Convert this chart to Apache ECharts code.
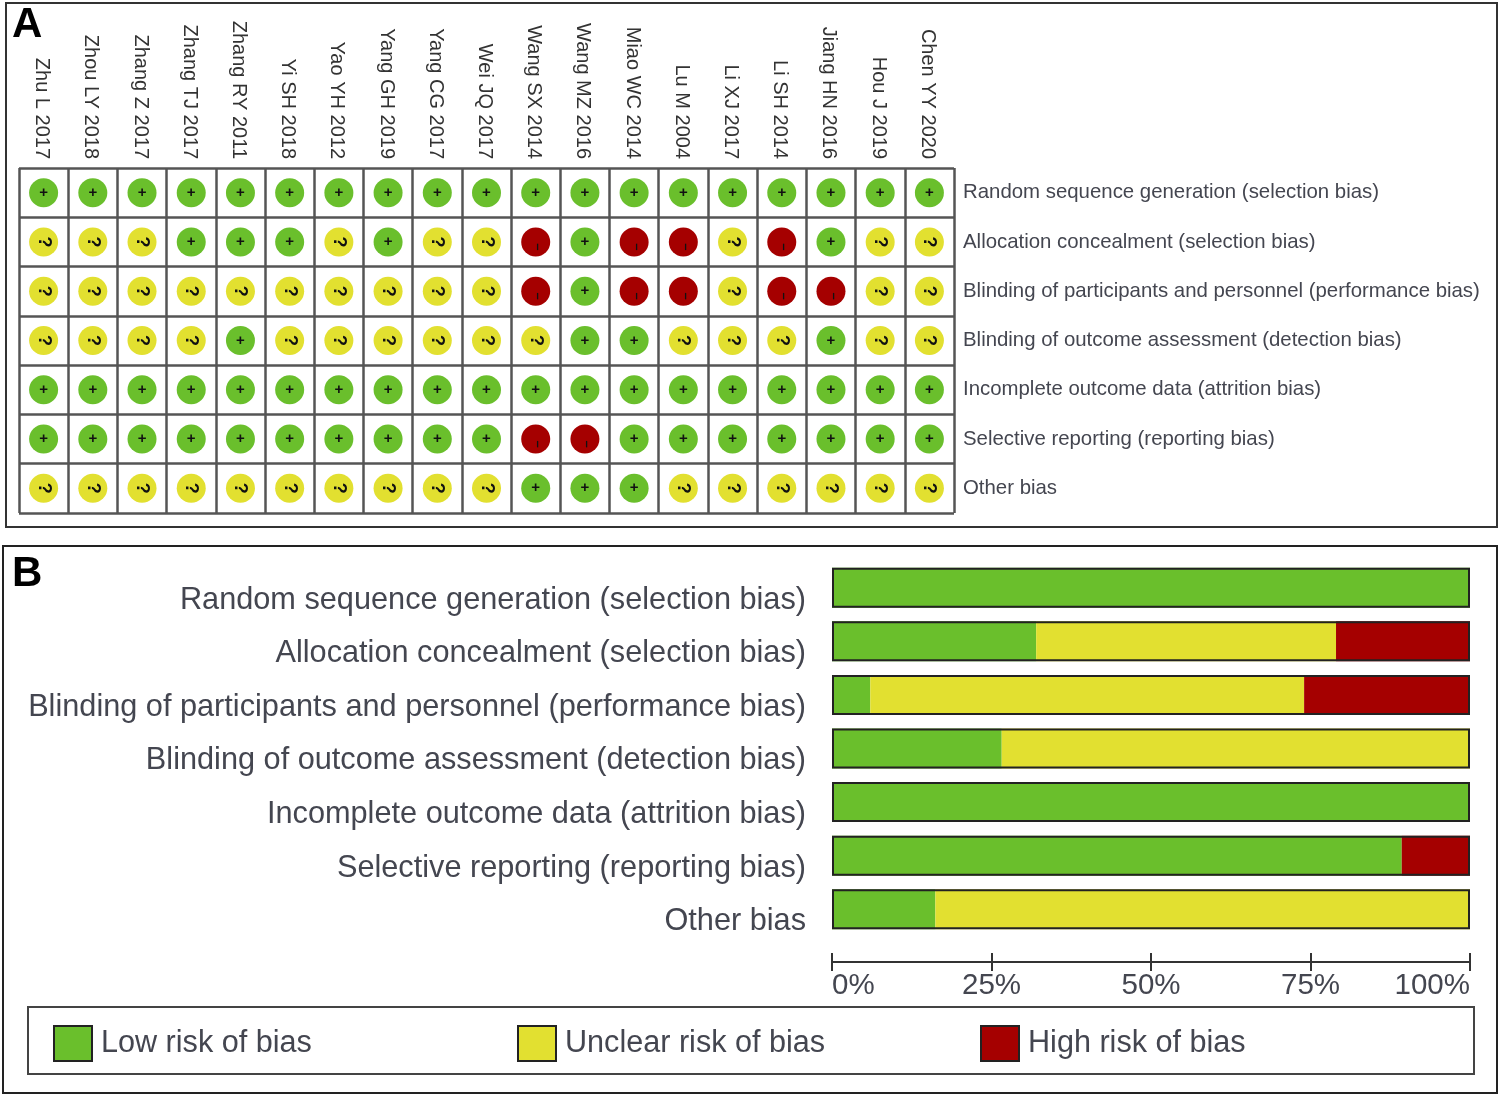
<!DOCTYPE html>
<html><head><meta charset="utf-8">
<style>html,body{margin:0;padding:0;background:#fff}#c{width:1500px;height:1097px}</style>
<script src="https://cdn.jsdelivr.net/npm/echarts@6/dist/echarts.min.js"></script>
</head><body><div id="c"></div>
<script>
const studies = ['Zhu L 2017','Zhou LY 2018','Zhang Z 2017','Zhang TJ 2017','Zhang RY 2011','Yi SH 2018','Yao YH 2012','Yang GH 2019','Yang CG 2017','Wei JQ 2017','Wang SX 2014','Wang MZ 2016','Miao WC 2014','Lu M 2004','Li XJ 2017','Li SH 2014','Jiang HN 2016','Hou J 2019','Chen YY 2020'];
const domains = ['Random sequence generation (selection bias)','Allocation concealment (selection bias)','Blinding of participants and personnel (performance bias)','Blinding of outcome assessment (detection bias)','Incomplete outcome data (attrition bias)','Selective reporting (reporting bias)','Other bias'];
const judgementRows = [
  '+++++++++++++++++++',
  '???+++?+??-+--?-+??',
  '??????????-+--?--??',
  '????+??????++???+??',
  '+++++++++++++++++++',
  '++++++++++--+++++++',
  '??????????+++??????'
];
const lowPct = [100,32,6,26.6,100,89.3,16.2];
const unclearPct = [0,47,68,73.4,0,0,83.8];
const highPct = [0,21,26,0,0,10.7,0];
const totalPct = [100,100,100,100,100,100,100];
const riskNames = ['Low risk of bias','Unclear risk of bias','High risk of bias'];
const GREEN='#6abf2c',YELLOW='#e2e030',RED='#a50000',INK='#444650';

function cells(code){
  const out=[];
  judgementRows.forEach((r,y)=>{[...r].forEach((c,x)=>{ if(c===code) out.push([x,y]); });});
  return out;
}
function dots(name,code,color,label){
  return {type:'scatter',name,xAxisIndex:0,yAxisIndex:0,data:cells(code),symbol:'circle',symbolSize:29,
    itemStyle:{color,opacity:1},label:Object.assign({show:true,position:'inside',color:'#111',fontFamily:'Liberation Sans',fontWeight:'bold',formatter:()=>code==='-'?'–':code},label)};
}
function bars(name,data,color){
  return {type:'bar',name,stack:'risk',xAxisIndex:1,yAxisIndex:1,data,barWidth:40,barGap:'-100%',itemStyle:{color}};
}
function legendAt(left,name,color){
  return {show:true,left,top:1023,padding:0,data:[{name,icon:'rect',itemStyle:{color,borderColor:'#222',borderWidth:2}}],itemWidth:38,itemHeight:35,itemGap:0,selectedMode:false,
    textStyle:{color:INK,fontFamily:'Liberation Sans',fontSize:30.6,verticalAlign:'top',lineHeight:41,padding:[0,0,0,4]}};
}
const chart=echarts.init(document.getElementById('c'),null,{renderer:'canvas'});
chart.setOption({
  animation:false,backgroundColor:'#fff',
  graphic:[
    {type:'rect',z:-1,shape:{x:6,y:3,width:1491,height:524},style:{fill:'#fff',stroke:'#333',lineWidth:2}},
    {type:'rect',z:-1,shape:{x:3,y:546,width:1494,height:547},style:{fill:'#fff',stroke:'#222',lineWidth:2}},
    {type:'rect',z:-1,shape:{x:28,y:1007,width:1446,height:67},style:{fill:'#fff',stroke:'#444',lineWidth:2}},
    {type:'text',left:12,top:4,style:{text:'A',font:'bold 42px "Liberation Sans"',fill:'#000'}},
    {type:'text',left:12,top:553,style:{text:'B',font:'bold 42px "Liberation Sans"',fill:'#000'}}
  ],
  legend:[legendAt(53,riskNames[0],GREEN),legendAt(517,riskNames[1],YELLOW),legendAt(980,riskNames[2],RED)],
  grid:[
    {left:19,top:168,width:935,height:345},
    {left:832,top:561,width:638,height:375}
  ],
  xAxis:[
    {gridIndex:0,type:'category',position:'top',data:studies,boundaryGap:true,
     axisLine:{show:false},axisTick:{show:false},
     splitLine:{show:true,lineStyle:{color:'#555',width:2.5}},
     axisLabel:{interval:0,rotate:90,margin:9,color:'#333',fontFamily:'Liberation Sans',fontSize:20,verticalAlign:'top',lineHeight:4}},
    {gridIndex:1,type:'value',position:'bottom',offset:26,min:0,max:100,interval:25,
     axisLine:{show:true,lineStyle:{color:'#333',width:2}},
     axisTick:{show:false},
     splitLine:{show:false},
     axisLabel:{margin:9,color:INK,fontFamily:'Liberation Sans',fontSize:29.5,formatter:'{value}%',alignMinLabel:'left',alignMaxLabel:'right'}},
    {gridIndex:1,type:'value',position:'bottom',offset:35,min:0,max:100,interval:25,
     axisLine:{show:false},axisTick:{show:true,inside:true,length:18,lineStyle:{color:'#333',width:2}},
     splitLine:{show:false},axisLabel:{show:false}}
  ],
  yAxis:[
    {gridIndex:0,type:'category',position:'right',inverse:true,data:domains,
     axisLine:{show:false},axisTick:{show:false},
     splitLine:{show:true,lineStyle:{color:'#555',width:2.5}},
     axisLabel:{interval:0,margin:9,color:INK,fontFamily:'Liberation Sans',fontSize:20.4}},
    {gridIndex:1,type:'category',inverse:true,data:domains,
     axisLine:{show:false},axisTick:{show:false},splitLine:{show:false},
     axisLabel:{interval:0,margin:26,color:INK,fontFamily:'Liberation Sans',fontSize:30.7,verticalAlign:'top',lineHeight:25}}
  ],
  series:[
    bars(riskNames[0],lowPct,GREEN),
    bars(riskNames[1],unclearPct,YELLOW),
    bars(riskNames[2],highPct,RED),
    {type:'bar',name:'outline',xAxisIndex:1,yAxisIndex:1,data:totalPct,barWidth:40,barGap:'-100%',silent:true,z:5,
     itemStyle:{color:'rgba(0,0,0,0)',borderColor:'#222',borderWidth:2}},
    dots(riskNames[0],'+',GREEN,{fontSize:15}),
    dots(riskNames[1],'?',YELLOW,{fontSize:18,rotate:-90}),
    dots(riskNames[2],'-',RED,{fontSize:13,rotate:90,offset:[-5,2]})
  ]
});
</script></body></html>
